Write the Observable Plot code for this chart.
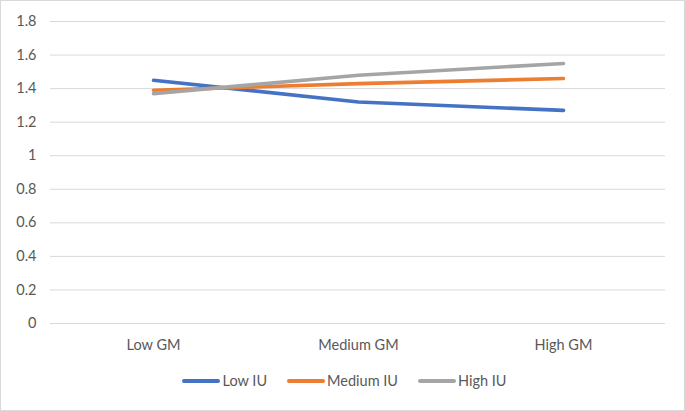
<!DOCTYPE html>
<html>
<head>
<meta charset="utf-8">
<script src="https://cdn.jsdelivr.net/npm/d3@7"></script>
<script src="https://cdn.jsdelivr.net/npm/@observablehq/plot@0.6"></script>
<style>
  html, body { margin: 0; padding: 0; background: #fff; }
  #chart { width: 683px; height: 409px; border: 1px solid #d9d9d9; position: relative; overflow: hidden; font-family: Lato, "Open Sans", sans-serif; }
  #legend { display: flex; justify-content: center; align-items: center; gap: 20px; font-size: 14.5px; color: #595959; margin-top: 10px; padding-left: 4px; }
  .item { display: flex; align-items: center; }
  .sw { width: 38px; height: 4px; border-radius: 2px; margin-right: 2px; }
</style>
</head>
<body>
<div id="chart"></div>
<script>
const categories = ["Low GM", "Medium GM", "High GM"];
const seriesNames = ["Low IU", "Medium IU", "High IU"];
const lowIU = [1.45, 1.32, 1.27];
const mediumIU = [1.39, 1.43, 1.46];
const highIU = [1.37, 1.48, 1.55];
const colors = ["#4472C4", "#ED7D31", "#A5A5A5"];
const yTicks = [0, 0.2, 0.4, 0.6, 0.8, 1, 1.2, 1.4, 1.6, 1.8];

const seriesValues = [lowIU, mediumIU, highIU];
const data = [];
seriesNames.forEach((s, i) => categories.forEach((c, j) => data.push({series: s, cat: c, value: seriesValues[i][j]})));

const plot = Plot.plot({
  width: 683,
  height: 361,
  marginTop: 20,
  marginBottom: 39,
  marginLeft: 49,
  marginRight: 19,
  style: {fontFamily: "Lato, 'Open Sans', sans-serif", fontSize: "14.5px", color: "#595959", background: "transparent"},
  x: {type: "point", domain: categories, padding: 0.5, label: null},
  y: {domain: [0, 1.8], label: null},
  color: {domain: seriesNames, range: colors},
  marks: [
    Plot.gridY(yTicks, {stroke: "#d9d9d9", strokeOpacity: 1, strokeWidth: 1}),
    Plot.axisY(yTicks, {tickSize: 0, tickPadding: 14, tickFormat: d => String(d), fill: "#595959"}),
    Plot.axisX({tickSize: 0, tickPadding: 16, fill: "#595959"}),
    Plot.line(data, {x: "cat", y: "value", z: "series", stroke: "series", strokeWidth: 3.6, strokeLinecap: "round", strokeLinejoin: "round", curve: "linear"})
  ]
});
const chart = document.getElementById("chart");
chart.appendChild(plot);

const legend = document.createElement("div");
legend.id = "legend";
seriesNames.forEach((s, i) => {
  const it = document.createElement("div");
  it.className = "item";
  const sw = document.createElement("span");
  sw.className = "sw";
  sw.style.background = colors[i];
  const t = document.createElement("span");
  t.textContent = s;
  it.appendChild(sw); it.appendChild(t);
  legend.appendChild(it);
});
chart.appendChild(legend);
</script>
</body>
</html>
